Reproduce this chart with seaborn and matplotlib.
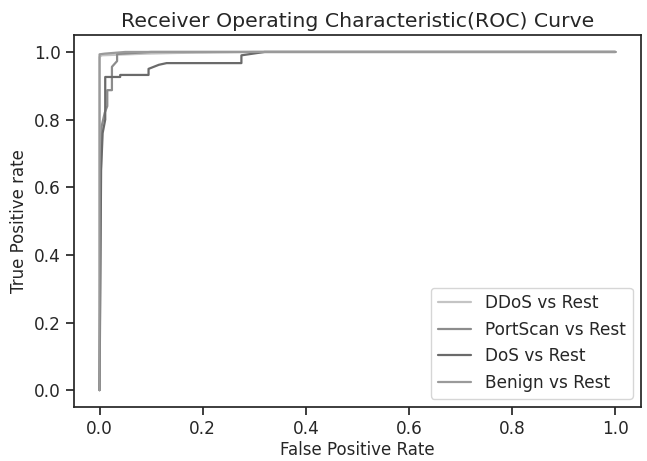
import numpy as np
import pandas as pd
import matplotlib
matplotlib.use('Agg')
import matplotlib.pyplot as plt
import seaborn as sns

# values
ddos_fpr = [0.0, 0.0, 0.004, 0.09, 0.15, 0.30, 1.0]
ddos_tpr = [0.0, 0.985, 0.990, 0.995, 0.997, 1.0, 1.0]

portscan_fpr = [0.0, 0.002, 0.004, 0.010, 0.015, 0.015, 0.024, 0.024, 0.034, 0.034, 0.10, 1.0]
portscan_tpr = [0.0, 0.60, 0.78, 0.82, 0.84, 0.887, 0.887, 0.956, 0.973, 0.994, 1.0, 1.0]

dos_fpr = [0.0, 0.003, 0.006, 0.011, 0.011, 0.040, 0.040, 0.095, 0.095, 0.115, 0.13, 0.275, 0.275, 0.32, 1.0]
dos_tpr = [0.0, 0.65, 0.76, 0.80, 0.926, 0.926, 0.932, 0.932, 0.95, 0.962, 0.967, 0.967, 0.99, 1.0, 1.0]

benign_fpr = [0.0, 0.0, 0.01, 0.05, 1.0]
benign_tpr = [0.0, 0.993, 0.995, 1.0, 1.0]

labels = ['DDoS vs Rest', 'PortScan vs Rest', 'DoS vs Rest', 'Benign vs Rest']
colors = ['#c4c4c4', '#8c8c8c', '#6a6a6a', '#9a9a9a']

sns.set_theme(style='ticks')
plt.rcParams['font.family'] = ['DejaVu Sans']

fig, ax = plt.subplots(figsize=(6.47, 4.61), dpi=100)
curves = [(ddos_fpr, ddos_tpr), (portscan_fpr, portscan_tpr), (dos_fpr, dos_tpr), (benign_fpr, benign_tpr)]
for (f, t), lab, c in zip(curves, labels, colors):
    df = pd.DataFrame({'fpr': f, 'tpr': t})
    ax.plot(df['fpr'], df['tpr'], color=c, label=lab, linewidth=1.6)

ax.set_title('Receiver Operating Characteristic(ROC) Curve', fontsize=14.7)
ax.set_xlabel('False Positive Rate', fontsize=12, labelpad=2)
ax.set_ylabel('True Positive rate', fontsize=12)
ax.tick_params(labelsize=12.2)
ax.legend(loc='lower right', fontsize=12.2)
plt.subplots_adjust(left=0.114, right=0.991, top=0.924, bottom=0.117)
plt.savefig('out.png', dpi=100)
